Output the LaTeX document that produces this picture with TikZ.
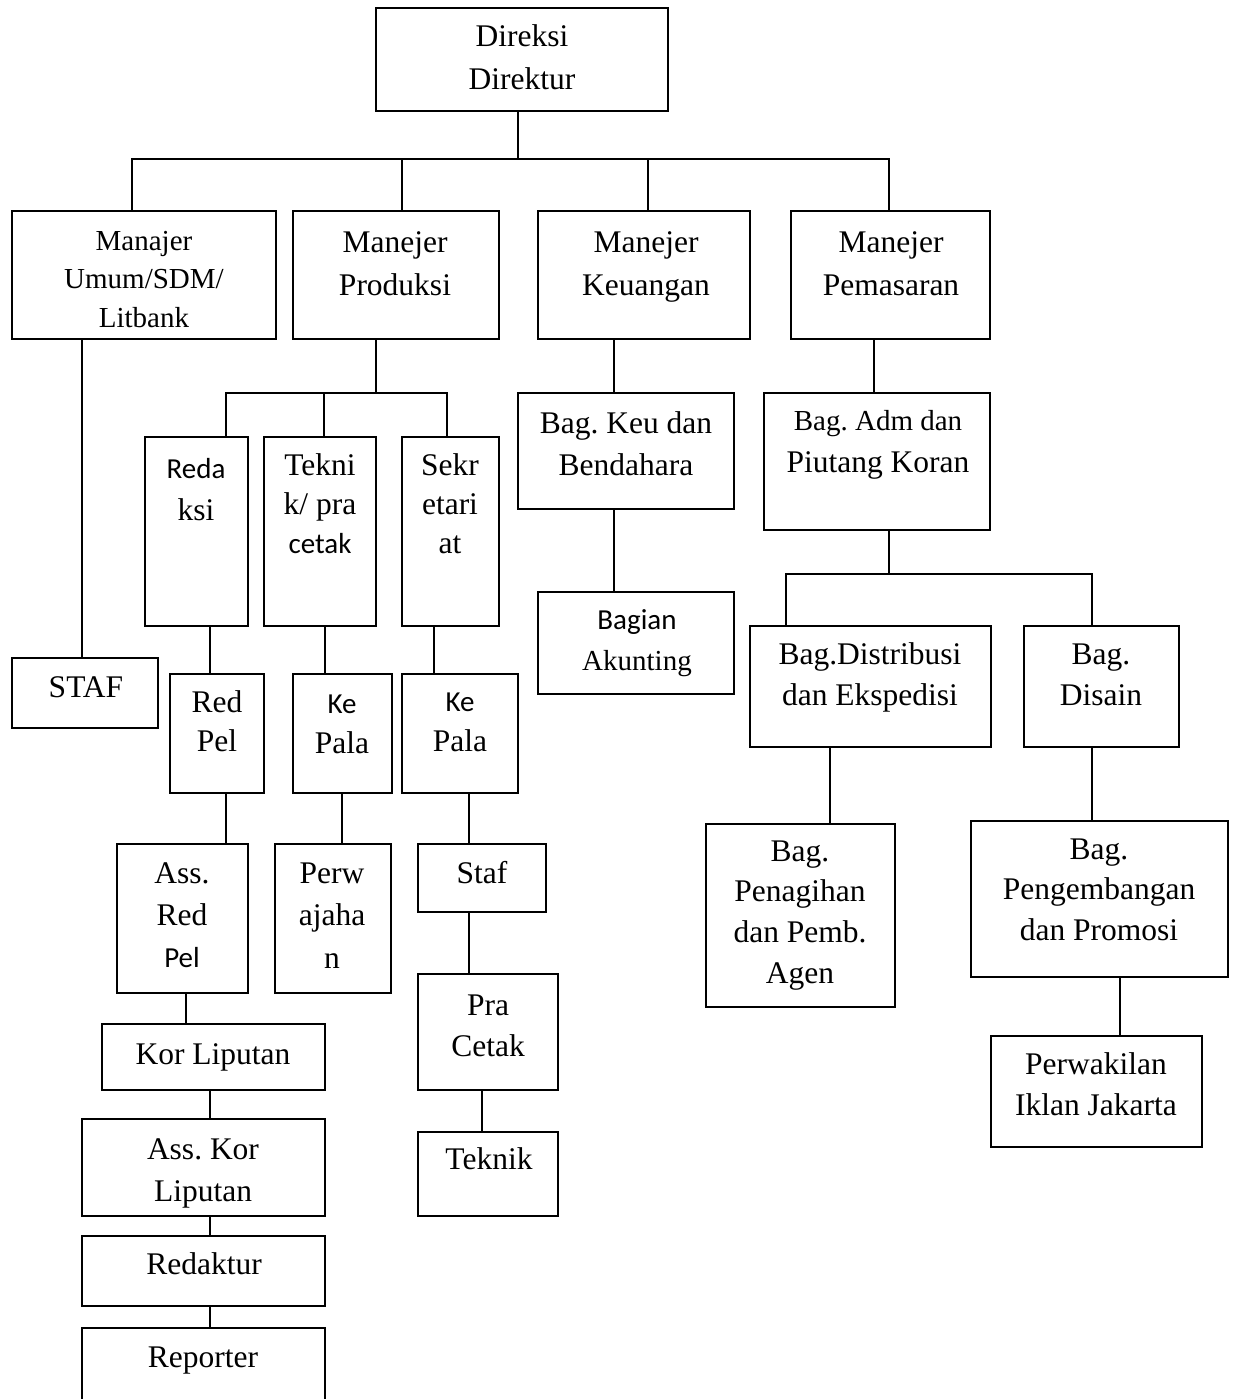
\documentclass[tikz,border=0pt]{standalone}
\usepackage{fontspec}
\setmainfont{Liberation Serif}
\newfontfamily\cbfont{Carlito}
\frenchspacing
\newcommand\fA{\fontsize{31.5}{36}\selectfont}
\newcommand\fB{\fontsize{29}{34}\selectfont}
\newcommand\fC{\cbfont\fontsize{29}{34}\selectfont}
\tikzset{
 box/.style={draw, line width=1.6pt, inner sep=0pt, outer sep=0pt, rectangle},
 lbl/.style={inner sep=0pt, outer sep=0pt, anchor=base},
 conn/.style={line width=1.6pt},
}
\newcommand\bx[5]{\node[box, minimum width={(#4-#2)*1pt}, minimum height={(#5-#3)*1pt}] (#1) at ({(#2+#4)/2},{(#3+#5)/2}) {};}
\newcommand\txt[6]{\foreach \t [count=\i from 0] in {#6} {\node[lbl, font=#2] (#1-\i) at (#3,{#4+\i*#5}) {\t};}}
\newcommand\vc[3]{\coordinate (vx) at (#3,0); \draw[conn] (vx |- #1.south) -- (vx |- #2.north);}
\begin{document}
\begin{tikzpicture}[x=1pt,y=-1pt]
\useasboundingbox (0,0) rectangle (1237,1399);
\fill[white] (0,0) rectangle (1237,1399);
\clip (0,0) rectangle (1237,1399);
% boxes
\bx{dir}{376}{8}{668}{111}
\bx{umum}{12}{211}{276}{339}
\bx{prod}{293}{211}{499}{339}
\bx{keu}{538}{211}{750}{339}
\bx{pem}{791}{211}{990}{339}
\bx{staf1}{12}{658}{158}{728}
\bx{redaksi}{145}{437}{248}{626}
\bx{teknik}{264}{437}{376}{626}
\bx{sekr}{402}{437}{499}{626}
\bx{redpel}{170}{674}{264}{793}
\bx{kepala1}{293}{674}{392}{793}
\bx{kepala2}{402}{674}{518}{793}
\bx{assred}{117}{844}{248}{993}
\bx{perw}{275}{844}{391}{993}
\bx{staf2}{418}{844}{546}{912}
\bx{pracetak}{418}{974}{558}{1090}
\bx{teknik2}{418}{1132}{558}{1216}
\bx{korlip}{102}{1024}{325}{1090}
\bx{asskor}{82}{1119}{325}{1216}
\bx{redaktur}{82}{1236}{325}{1306}
\bx{reporter}{82}{1328}{325}{1430}
\bx{bagkeu}{518}{393}{734}{509}
\bx{akunting}{538}{592}{734}{694}
\bx{bagadm}{764}{393}{990}{530}
\bx{distrib}{750}{626}{991}{747}
\bx{disain}{1024}{626}{1179}{747}
\bx{penagihan}{706}{824}{895}{1007}
\bx{pengemb}{971}{821}{1228}{977}
\bx{perwakilan}{991}{1036}{1202}{1147}
% texts
\txt{dirt}{\fA}{522}{47}{43}{Direksi,Direktur}
\txt{umumt}{\fB}{144}{250}{38.5}{Manajer,Umum/SDM/,Litbank}
\txt{prodt}{\fA}{395}{252}{43}{Manejer,Produksi}
\txt{keut}{\fA}{646}{252}{43}{Manejer,Keuangan}
\txt{pemt}{\fA}{891}{252}{43}{Manejer,Pemasaran}
\txt{redaksit}{\fA}{196}{478}{42}{{\fC Reda},ksi}
\txt{teknikt}{\fA}{320}{475}{39}{Tekni,k/ pra,{\fC cetak}}
\txt{sekrt}{\fA}{450}{475}{39}{Sekr,etari,at}
\txt{staf1t}{\fA}{86}{697}{40}{STAF}
\txt{redpelt}{\fA}{217}{712}{39}{Red,Pel}
\txt{kepala1t}{\fA}{342}{713}{40}{{\fC Ke},Pala}
\txt{kepala2t}{\fA}{460}{711}{40}{{\fC Ke},Pala}
\txt{assredt}{\fA}{182}{883}{42}{Ass.,Red,{\fC Pel}}
\txt{perwt}{\fA}{332}{883}{42.5}{Perw,ajaha,n}
\txt{staf2t}{\fA}{482}{883}{40}{Staf}
\txt{pracetakt}{\fA}{488}{1015}{41}{Pra,Cetak}
\txt{teknik2t}{\fA}{489}{1169}{40}{Teknik}
\txt{korlipt}{\fA}{213}{1064}{40}{Kor Liputan}
\txt{asskort}{\fA}{203}{1159}{42}{Ass. Kor,Liputan}
\txt{redakturt}{\fA}{204}{1274}{40}{Redaktur}
\txt{reportert}{\fA}{203}{1367}{40}{Reporter}
\txt{bagkeut}{\fA}{626}{433}{42}{Bag. Keu dan,Bendahara}
\txt{bagadmt}{\fB}{878}{430}{42}{Bag. Adm dan,{\fA Piutang Koran}}
\txt{akuntingt}{\fB}{637}{629}{41}{{\fC Bagian},Akunting}
\txt{distribt}{\fA}{870}{664}{41}{Bag.Distribusi,dan Ekspedisi}
\txt{disaint}{\fA}{1101}{664}{41}{Bag.,Disain}
\txt{penagihant}{\fA}{800}{861}{40.7}{Bag.,Penagihan,dan Pemb.,Agen}
\txt{pengembt}{\fA}{1099}{859}{40.5}{Bag.,Pengembangan,dan Promosi}
\txt{perwakilant}{\fA}{1096}{1074}{41}{Perwakilan,Iklan Jakarta}
% connectors
\coordinate (bus1) at (518,159);
\draw[conn] (bus1 |- dir.south) -- (bus1);
\coordinate (b1l) at (132,159);
\coordinate (b1r) at (889,159);
\draw[conn] (b1l |- umum.north) -- (b1l) -- (b1r) -- (b1r |- pem.north);
\coordinate (b1p) at (402,159);
\draw[conn] (b1p) -- (b1p |- prod.north);
\coordinate (b1k) at (648,159);
\draw[conn] (b1k) -- (b1k |- keu.north);
\vc{umum}{staf1}{82}
\coordinate (b2) at (376,393);
\draw[conn] (b2 |- prod.south) -- (b2);
\coordinate (b2l) at (226,393);
\coordinate (b2r) at (447,393);
\draw[conn] (b2l |- redaksi.north) -- (b2l) -- (b2r) -- (b2r |- sekr.north);
\coordinate (b2m) at (324,393);
\draw[conn] (b2m) -- (b2m |- teknik.north);
\vc{redaksi}{redpel}{210}
\vc{teknik}{kepala1}{325}
\vc{sekr}{kepala2}{434}
\vc{redpel}{assred}{226}
\vc{kepala1}{perw}{342}
\vc{kepala2}{staf2}{469}
\vc{staf2}{pracetak}{469}
\vc{pracetak}{teknik2}{482}
\vc{assred}{korlip}{186}
\vc{korlip}{asskor}{210}
\vc{asskor}{redaktur}{210}
\vc{redaktur}{reporter}{210}
\vc{keu}{bagkeu}{614}
\vc{bagkeu}{akunting}{614}
\vc{pem}{bagadm}{874}
\coordinate (b3) at (889,574);
\draw[conn] (b3 |- bagadm.south) -- (b3);
\coordinate (b3l) at (786,574);
\coordinate (b3r) at (1092,574);
\draw[conn] (b3l |- distrib.north) -- (b3l) -- (b3r) -- (b3r |- disain.north);
\vc{distrib}{penagihan}{830}
\vc{disain}{pengemb}{1092}
\vc{pengemb}{perwakilan}{1120}
\end{tikzpicture}
\end{document}
